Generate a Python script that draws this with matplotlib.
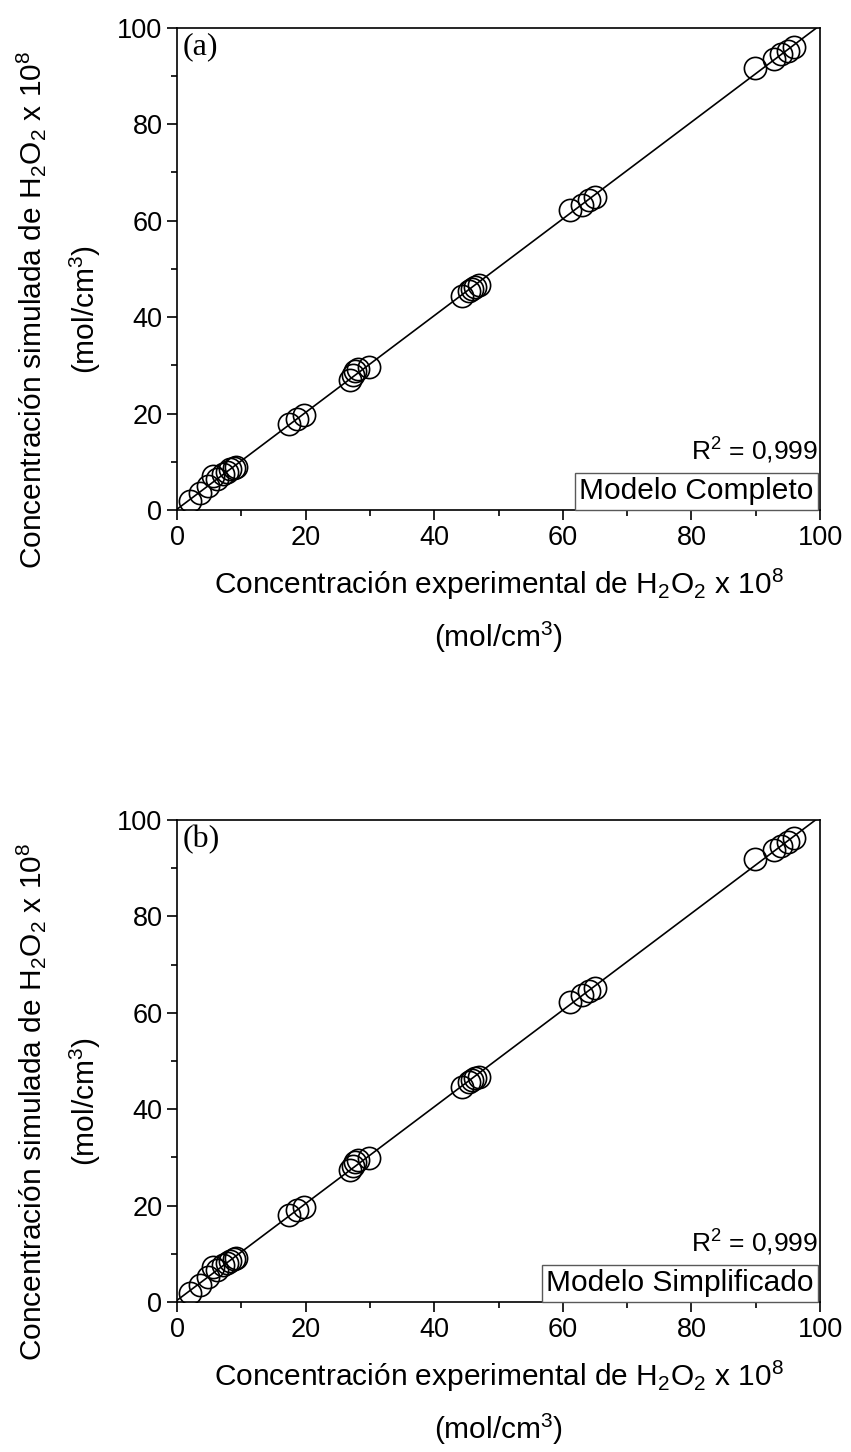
import numpy as np
import matplotlib
matplotlib.use('Agg')
import matplotlib.pyplot as plt
from matplotlib.ticker import MultipleLocator

plt.rcParams['font.family'] = ['Liberation Sans', 'DejaVu Sans']
plt.rcParams['mathtext.default'] = 'regular'

# experimental vs simulated H2O2 concentration (x 10^8 mol/cm3)
x_exp = [2.0, 3.5, 4.8, 5.6, 6.2, 7.2, 7.8, 8.3, 8.8, 9.2,
         17.4, 18.6, 19.8, 26.9, 27.3, 27.7, 28.2, 29.9,
         44.3, 45.4, 45.9, 46.4, 46.9, 61.1, 63.0, 64.0, 65.0,
         89.9, 92.8, 94.0, 95.0, 96.0]
y_completo = [1.8, 3.5, 5.0, 7.0, 6.4, 7.4, 7.9, 8.4, 8.8, 9.0,
              17.8, 18.8, 19.6, 27.0, 28.0, 28.8, 29.3, 29.6,
              44.4, 45.5, 45.9, 46.3, 46.6, 62.2, 63.3, 64.2, 64.9,
              91.7, 93.6, 94.5, 95.2, 96.0]
y_simplificado = [1.9, 3.6, 5.1, 7.2, 6.6, 7.6, 8.1, 8.6, 9.0, 9.2,
                  18.1, 19.1, 19.8, 27.3, 28.3, 29.0, 29.5, 29.8,
                  44.6, 45.6, 46.0, 46.4, 46.7, 62.3, 63.6, 64.5, 65.1,
                  91.8, 93.7, 94.6, 95.4, 96.2]

panels = ['(a)', '(b)']
modelos = ['Modelo Completo', 'Modelo Simplificado']
r2_text = 'R$^2$ = 0,999'
xlabel = 'Concentración experimental de H$_2$O$_2$ x 10$^8$\n(mol/cm$^3$)'
ylabel = 'Concentración simulada de H$_2$O$_2$ x 10$^8$\n(mol/cm$^3$)'

fig = plt.figure(figsize=(8.51, 14.52), dpi=100)
positions = [[0.208, 0.6488, 0.7556, 0.332],
             [0.208, 0.1033, 0.7556, 0.332]]

for pos, y_sim, panel, modelo in zip(positions, [y_completo, y_simplificado], panels, modelos):
    ax = fig.add_axes(pos)
    x = np.array(x_exp)
    y = np.array(y_sim)
    b, a = np.polyfit(x, y, 1)
    xl = np.array([0, 100])
    ax.plot(xl, a + b * xl, color='black', lw=1.2, zorder=2)
    ax.plot(x, y, 'o', ms=16, mfc='none', mec='black', mew=1.2, zorder=3)
    ax.set_xlim(0, 100)
    ax.set_ylim(0, 100)
    ax.xaxis.set_major_locator(MultipleLocator(20))
    ax.xaxis.set_minor_locator(MultipleLocator(10))
    ax.yaxis.set_major_locator(MultipleLocator(20))
    ax.yaxis.set_minor_locator(MultipleLocator(10))
    ax.tick_params(which='both', direction='out', top=False, right=False,
                   width=1.2, labelsize=19.5)
    ax.tick_params(which='major', length=7)
    ax.tick_params(which='minor', length=4)
    for s in ax.spines.values():
        s.set_linewidth(1.2)
    ax.set_xlabel(xlabel, fontsize=21.5, linespacing=1.65, labelpad=12)
    ax.set_ylabel(ylabel, fontsize=21.5, linespacing=1.75, labelpad=10)
    ax.yaxis.label.set_y(0.415)
    ax.text(0.008, 0.99, panel, transform=ax.transAxes, ha='left', va='top',
            fontsize=23, family='Liberation Serif')
    ax.text(0.997, 0.104, r2_text, transform=ax.transAxes, ha='right',
            va='baseline', fontsize=19)
    ax.text(0.99, 0.01, modelo, transform=ax.transAxes, ha='right',
            va='bottom', fontsize=21.5,
            bbox=dict(boxstyle='square,pad=0.15', fc='white', ec='0.35', lw=1))

fig.savefig('out.png', dpi=100)
